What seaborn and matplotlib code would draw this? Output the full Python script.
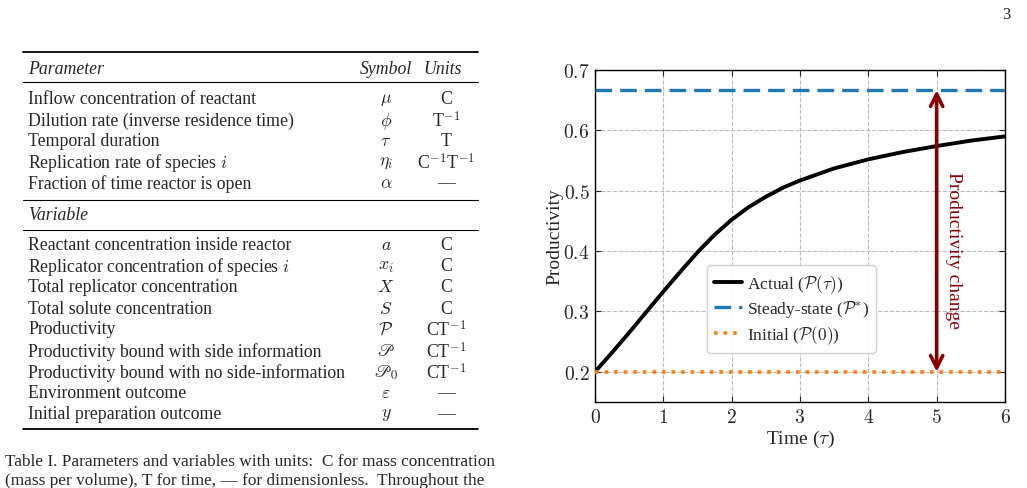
import numpy as np
import pandas as pd
import matplotlib
matplotlib.use("Agg")
import matplotlib.pyplot as plt
from matplotlib.ticker import FuncFormatter, MultipleLocator
import seaborn as sns

# --- chart data ---
tau = [0.0, 0.25, 0.5, 0.75, 1.0, 1.25, 1.5, 1.75, 2.0, 2.25, 2.5, 2.75,
       3.0, 3.5, 4.0, 4.5, 5.0, 5.5, 6.0]
actual = [0.200, 0.232, 0.265, 0.299, 0.333, 0.366, 0.398, 0.427, 0.452,
          0.473, 0.490, 0.505, 0.517, 0.537, 0.552, 0.564, 0.574, 0.583, 0.590]
p_star = 2 / 3
p_init = 0.2
arrow_at = 5.0

series_labels = [r"Actual ($\mathcal{P}(\tau)$)",
                 r"Steady-state ($\mathcal{P}^{*}$)",
                 r"Initial ($\mathcal{P}(0)$)"]

# --- table data ---
param_names = ["Inflow concentration of reactant",
               "Dilution rate (inverse residence time)",
               "Temporal duration",
               r"Replication rate of species $i$",
               "Fraction of time reactor is open"]
param_symbols = [r"$\mu$", r"$\phi$", r"$\tau$", r"$\eta_i$", r"$\alpha$"]
param_units = ["C", r"T$^{-1}$", "T", r"C$^{-1}$T$^{-1}$", "—"]

var_names = ["Reactant concentration inside reactor",
             r"Replicator concentration of species $i$",
             "Total replicator concentration",
             "Total solute concentration",
             "Productivity",
             "Productivity bound with side information",
             "Productivity bound with no side-information",
             "Environment outcome",
             "Initial preparation outcome"]
var_symbols = [r"$a$", r"$x_i$", r"$X$", r"$S$", r"$\mathcal{P}$",
               r"$\mathscr{P}$", r"$\mathscr{P}_0$", r"$\varepsilon$", r"$y$"]
var_units = ["C", "C", "C", "C", r"CT$^{-1}$", r"CT$^{-1}$", r"CT$^{-1}$", "—", "—"]

caption = ["Table I. Parameters and variables with units:  C for mass concentration",
           "(mass per volume), T for time, — for dimensionless.  Throughout the"]

sns.set_style("ticks", {"xtick.direction": "in", "ytick.direction": "in"})
plt.rcParams['font.family'] = ['Liberation Serif', 'DejaVu Serif']
plt.rcParams['mathtext.fontset'] = 'cm'

W, H = 1027, 489
fig = plt.figure(figsize=(W / 100, H / 100), dpi=100)


def px(x, y):
    return x / W, 1 - y / H


# --- page number ---
fig.text(*px(1006, 15), "3", fontsize=12, ha="center", va="center")

# --- table ---
fs = 12.8
x_name, x_sym, x_unit = 28, 386, 446
for y, lw in [(53, 1.3), (83, 0.8), (201, 0.8), (231, 0.8), (430, 1.3)]:
    fig.add_artist(plt.Line2D([23 / W, 478 / W], [1 - y / H] * 2, color="black", lw=lw))

fig.text(*px(x_name, 69), "Parameter", fontsize=fs, style="italic", va="center")
fig.text(*px(386, 69), "Symbol", fontsize=fs, style="italic", va="center", ha="center")
fig.text(*px(443, 69), "Units", fontsize=fs, style="italic", va="center", ha="center")
fig.text(*px(x_name, 215), "Variable", fontsize=fs, style="italic", va="center")

param_y = [100, 121, 142, 163, 184]
var_y = [246, 267, 288, 309, 330, 352, 373, 394, 415]
for names, syms, units, ys in [(param_names, param_symbols, param_units, param_y),
                               (var_names, var_symbols, var_units, var_y)]:
    for n, s, u, y in zip(names, syms, units, ys):
        fig.text(*px(x_name, y), n, fontsize=fs, va="center")
        t = fig.text(*px(x_sym, y), s, fontsize=fs, va="center", ha="center")
        if "mathscr" in s:
            t.set_math_fontfamily("stix")
        fig.text(*px(x_unit, y), u, fontsize=fs, va="center", ha="center")

for line, y in zip(caption, [462, 481]):
    fig.text(*px(5, y), line, fontsize=12.45, va="center")

# --- chart ---
ax = fig.add_axes([595 / W, 1 - 403 / H, 410 / W, 332 / H])
df = pd.DataFrame({"tau": tau, "P": actual})
sns.lineplot(data=df, x="tau", y="P", ax=ax, color="black", lw=2.8,
             label=series_labels[0], zorder=3)
ax.axhline(p_star, color="#1f77b4", lw=2.4, dashes=(5, 2.4), label=series_labels[1], zorder=3)
ax.axhline(p_init, color="#ff7f0e", lw=2.6, ls=":", label=series_labels[2], zorder=3)

ax.annotate("", xy=(arrow_at, p_star), xytext=(arrow_at, p_init),
            arrowprops=dict(arrowstyle="<->", color="#8b0000", lw=2.6,
                            mutation_scale=22, shrinkA=0, shrinkB=0), zorder=4)
ax.text(arrow_at + 0.24, (p_star + p_init) / 2 - 0.031, "Productivity change",
        rotation=-90, color="#8b0000", fontsize=14, ha="center", va="center")

ax.set_xlim(0, 6)
ax.set_ylim(0.15, 0.7)
ax.xaxis.set_major_locator(MultipleLocator(1))
ax.yaxis.set_major_locator(MultipleLocator(0.1))
ax.xaxis.set_major_formatter(FuncFormatter(lambda v, p: f"${v:.0f}$"))
ax.yaxis.set_major_formatter(FuncFormatter(lambda v, p: f"${v:.1f}$"))
ax.tick_params(which="both", direction="in", top=True, right=True,
               labelsize=14, length=4, width=0.8, pad=4)
ax.grid(True, color="#bbbbbb", ls="--", lw=0.8)
for sp in ax.spines.values():
    sp.set_linewidth(1.0)
    sp.set_color("black")

ax.set_xlabel(r"Time ($\tau$)", fontsize=14, labelpad=2)
ax.set_ylabel("Productivity", fontsize=14, labelpad=0)

ax.legend(loc="lower left", bbox_to_anchor=(0.273, 0.148), borderaxespad=0,
          fontsize=12.5, frameon=True, framealpha=0.9, edgecolor="#cccccc",
          handlelength=1.6, handletextpad=0.3, labelspacing=0.22, borderpad=0.4)

fig.savefig("out.png", dpi=100)
